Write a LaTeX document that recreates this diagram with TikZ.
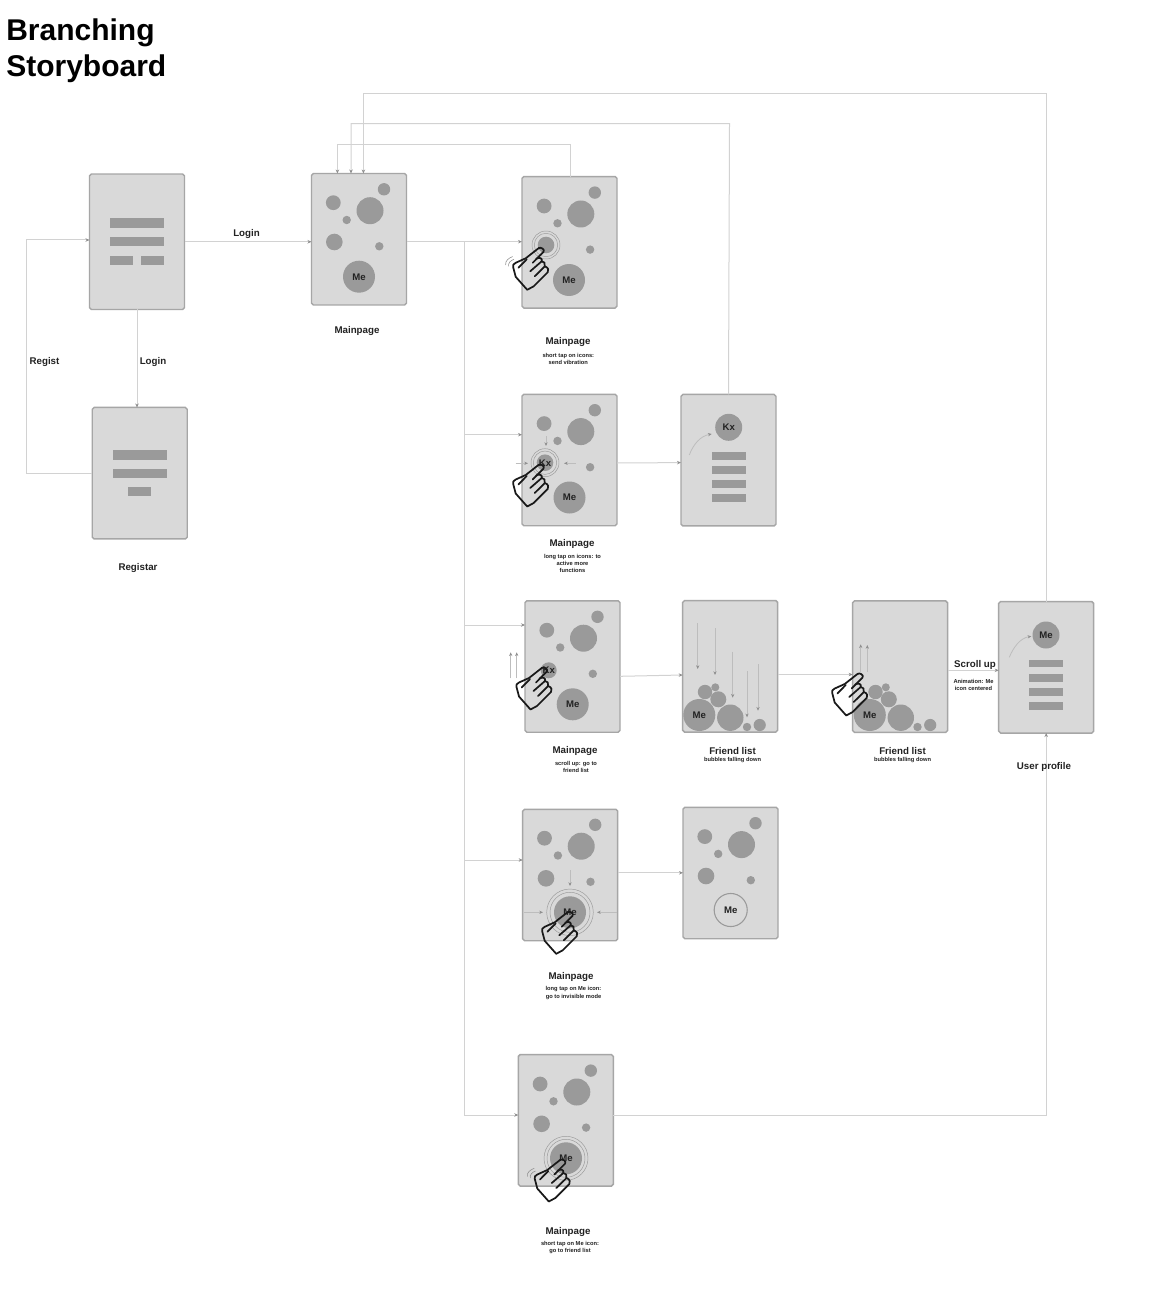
\documentclass[tikz,border=0pt]{standalone}
\usepackage{fontspec}
\setmainfont{Liberation Sans}
\usetikzlibrary{arrows.meta,calc}
\definecolor{linegray}{HTML}{D2D2D2}
\definecolor{hintgray}{HTML}{BDBDBD}
\definecolor{tipgray}{HTML}{8F8F8F}
\definecolor{screenfill}{HTML}{D9D9D9}
\definecolor{screenedge}{HTML}{A6A6A6}
\definecolor{bubblegray}{HTML}{9A9A9A}
\definecolor{inkdark}{HTML}{222222}
\tikzset{
  screenbox/.style={draw=screenedge,fill=screenfill,line width=1.1pt,rounded corners=1.4pt,
    minimum width=71.25pt,minimum height=98.6pt,inner sep=0pt,outer sep=0pt},
  link/.style={draw=linegray,line width=0.75pt},
  linka/.style={link,-{Stealth[length=3pt,width=2.6pt,color=tipgray]}},
  hint/.style={draw=hintgray,line width=0.6pt,-{Stealth[length=2.8pt,width=2.4pt,color=tipgray]}},
  bubble/.style={fill=bubblegray},
  bar/.style={fill=bubblegray},
  ring/.style={draw=bubblegray,line width=0.35pt},
  icontext/.style={text=inkdark,text height=5.2pt,text depth=0pt,font=\bfseries\fontsize{7.2}{8}\selectfont},
  iconme/.style={circle,fill=bubblegray,inner sep=0pt,outer sep=0pt,icontext},
  title/.style={anchor=north west,align=left,inner sep=0pt,font=\bfseries\fontsize{22.5}{27}\selectfont,text=black},
  head/.style={inner sep=0pt,yshift=-1.1pt,text=inkdark,font=\bfseries\fontsize{7.3}{9}\selectfont},
  sub/.style={inner sep=0pt,align=center,text=inkdark,font=\bfseries\fontsize{4.3}{5.3}\selectfont},
  handline/.style={draw=black!90,line width=1.3pt,line join=round,line cap=round},
  wave/.style={draw=black!45,line width=0.4pt},
}
% four small bubbles and the large one, relative to the screen's top left corner
\newcommand\bubblebase[2]{\begin{scope}[shift={(#1,#2)}]
  \fill[bubble] (58.5,37.2) circle[radius=13.5];
  \fill[bubble] (72.5,15.8) circle[radius=6.2];
  \fill[bubble] (21.8,29.2) circle[radius=7.4];
  \fill[bubble] (35.2,46.5) circle[radius=4.2];
  \fill[bubble] (67.8,72.8) circle[radius=4.2];
\end{scope}}
\newcommand\handicon[2]{\begin{scope}[shift={(#1,#2)}]
  \draw[handline] (-3,-1.2) -- (-16,9) -- (-26,13.5) .. controls (-28.5,14.5) and (-29,16) .. (-28.5,18)
    -- (-26,27.5) -- (-14.5,40.5) -- (-8,37) -- (6,23) .. controls (7.5,21.5) and (6.5,18) .. (3.5,17.2);
  \draw[handline] (-3,-1.2) .. controls (-1,-2.5) and (3.5,0) .. (1.8,2.6) -- (-9,13.5);
  \draw[handline] (-23.3,18.5) -- (-15,10);
  \draw[handline] (-5.5,9.5) .. controls (-2.5,7.5) and (1.2,9) .. (0,12) -- (-11.5,22);
  \draw[handline] (0,12) .. controls (2.5,11.5) and (4,14.5) .. (3,17.2) -- (-7,27);
  \end{scope}}
\newcommand\waveicon[2]{\begin{scope}[shift={(#1,#2)}]
  \draw[wave] (-36,15.7) .. controls (-37,12) and (-33,8.5) .. (-29,7.3);
  \draw[wave] (-33,17) .. controls (-34,14) and (-31,11) .. (-27.7,10);
\end{scope}}
\newcommand\fallen[2]{\begin{scope}[shift={(#1,#2)}]
  \fill[bubble] (47.6,117.2) circle[radius=13.2];
  \fill[bubble] (35.6,98.8) circle[radius=8];
  \fill[bubble] (22.3,91.5) circle[radius=7.2];
  \fill[bubble] (32.6,86.8) circle[radius=4];
  \fill[bubble] (64.3,126.5) circle[radius=4.2];
  \fill[bubble] (77,124.5) circle[radius=6.1];
\end{scope}}
\begin{document}
\begin{tikzpicture}[x=0.75pt,y=-0.75pt]
\path[use as bounding box,fill=white] (0,0) rectangle (1160,1298);

\node[title] (ttl) at (6,18) {Branching\\Storyboard};

% screens
\node[screenbox,minimum height=101.6pt] (login) at (137,241.75) {};
\node[screenbox] (regis) at (139.75,473.2) {};
\node[screenbox] (main) at (359,239.25) {};
\node[screenbox] (tap) at (569.5,242.3) {};
\node[screenbox] (longtap) at (569.5,460) {};
\node[screenbox] (friendprofile) at (728.5,460.2) {};
\node[screenbox] (scroll) at (572.5,666.5) {};
\node[screenbox] (fall) at (730.2,666.3) {};
\node[screenbox] (fallup) at (900.1,666.7) {};
\node[screenbox] (profile) at (1046.2,667.3) {};
\node[screenbox] (melong) at (570.2,875) {};
\node[screenbox] (invis) at (730.5,873) {};
\node[screenbox] (meshort) at (565.8,1120.3) {};

% connectors
\coordinate (trunk) at (464,241.7);
\draw[linka] (login.east) -- (main.west |- login.east);
\draw[linka] (login.south) -- (login.south |- regis.north);
\draw[linka] (regis.west) -- (26,473.2) -- (26,240) -- (login.west |- 0,240);
\draw[linka] (main.east |- trunk) -- (tap.west |- trunk);
\draw[link] (trunk) -- (464,1115);
\draw[linka] (464,434.7) -- (longtap.west |- 0,434.7);
\draw[linka] (464,625) -- (scroll.west |- 0,625);
\draw[linka] (464,860) -- (melong.west |- 0,860);
\draw[linka] (464,1115) -- (meshort.west |- 0,1115);
\draw[linka] (tap.north -| 570.7,0) -- (570.7,144.7) -- (337.4,144.7) -- (337.4,173.5);
\draw[linka] (friendprofile.north) -- (729.5,123.6) -- (351,123.6) -- (351,173.5);
\draw[linka] (profile.north) -- (1046.2,93.8) -- (363.4,93.8) -- (363.4,173.5);
\draw[linka] (longtap.east |- 0,463) -- (friendprofile.west |- 0,462.6);
\draw[linka] (scroll.east |- 0,676.3) -- (fall.west |- 0,675);
\draw[linka] (fall.east |- 0,674.5) -- (fallup.west |- 0,674.5);
\draw[linka] (fallup.east |- 0,670.3) -- (profile.west |- 0,670.3);
\draw[linka] (melong.east |- 0,872.8) -- (invis.west |- 0,872.8);
\draw[linka] (meshort.east |- 0,1115) -- (1046.2,1115) -- (profile.south);

% login bars
\fill[bar] (110,218.3) rectangle (164,228);
\fill[bar] (110,236.7) rectangle (164,246.3);
\fill[bar] (110,255.7) rectangle (133.3,265);
\fill[bar] (140.7,255.7) rectangle (164,265);
% register bars
\fill[bar] (112.7,450.3) rectangle (166.7,460);
\fill[bar] (112.7,468.7) rectangle (166.7,478);
\fill[bar] (128,486.7) rectangle (151.3,496);

% main page
\bubblebase{311.5}{173.5}
\fill[bubble] (334.3,242) circle[radius=8.3];
\node[iconme,minimum size=24pt] (mainme) at (359,276.7) {Me};

% short tap
\bubblebase{522.3}{176.8}
\fill[bubble] (546,245) circle[radius=8.3];
\draw[ring] (546,245) circle[radius=11.7] (546,245) circle[radius=14];
\node[iconme,minimum size=24pt] (tapme) at (569,280) {Me};

% long tap
\bubblebase{522.3}{394.4}
\fill[bubble] (545,462.7) circle[radius=8.3];
\draw[ring] (545,462.7) circle[radius=11.7] (545,462.7) circle[radius=14];
\node[iconme,minimum size=24pt] (longme) at (569.5,497.5) {Me};
\node[inner sep=0pt,icontext] (longkx) at (545,463) {Kx};
\draw[hint] (546,436) -- (546,446);
\draw[hint] (515.7,463.3) -- (528,463.3);
\draw[hint] (575.7,463.3) -- (564,463.3);

% friend profile
\node[iconme,minimum size=20.25pt] (profkx) at (728.7,427.3) {Kx};
\fill[bar] (712,452.3) rectangle (745.5,460);
\fill[bar] (712,466) rectangle (745.5,474);
\fill[bar] (712,480) rectangle (745.5,487.7);
\fill[bar] (712,494) rectangle (745.5,501.7);
\draw[hint] (689.3,455) .. controls (693,445) and (700,436) .. (711.7,434);

% scroll
\bubblebase{525}{601}
\node[iconme,minimum size=12pt] (scrollkx) at (548.7,670.3) {Kx};
\node[iconme,minimum size=24pt] (scrollme) at (572.7,704.3) {Me};
\draw[hint] (510.7,678.3) -- (510.7,652.3);
\draw[hint] (516.7,678.3) -- (516.7,652.3);

% falling
\fallen{682.7}{600.5}
\node[iconme,minimum size=24pt] (fallme) at (699.3,715) {Me};
\draw[hint] (697.7,623.3) -- (697.7,669);
\draw[hint] (715,628.3) -- (715,675);
\draw[hint] (732.7,651.7) -- (732.7,697.7);
\draw[hint] (747,671) -- (747,717.3);
\draw[hint] (758,664.3) -- (758,710.7);

% falling, scrolled
\fallen{853.2}{600.5}
\node[iconme,minimum size=24pt] (upme) at (869.8,715) {Me};
\draw[hint] (860.7,671.7) -- (860.7,644.3);
\draw[hint] (867.3,671.7) -- (867.3,645);

% user profile
\node[iconme,minimum size=20.25pt] (profme) at (1046,635) {Me};
\fill[bar] (1029.3,659.7) rectangle (1063,667);
\fill[bar] (1029.3,673.7) rectangle (1063,681.5);
\fill[bar] (1029.3,687.7) rectangle (1063,695.5);
\fill[bar] (1029.3,701.7) rectangle (1063,709.5);
\draw[hint] (1009.3,657.3) .. controls (1013,648) and (1020,638) .. (1031.3,636.3);

% long tap on Me
\bubblebase{522.7}{809}
\fill[bubble] (546,878.3) circle[radius=8.3];
\node[iconme,minimum size=24pt] (melongme) at (570,912.3) {Me};
\draw[ring] (570,912.3) circle[radius=20] (570,912.3) circle[radius=23.3];
\draw[hint] (570,870) -- (570,886);
\draw[hint] (524,912.3) -- (543,912.3);
\draw[hint] (616.7,912.3) -- (597,912.3);

% invisible
\bubblebase{683}{807.4}
\fill[bubble] (706,876) circle[radius=8.3];
\node[circle,draw=bubblegray,line width=0.8pt,fill=screenfill,minimum size=24.8pt,inner sep=0pt,icontext] (invisme) at (730.7,910) {Me};

% short tap on Me
\bubblebase{518.3}{1054.8}
\fill[bubble] (541.6,1123.8) circle[radius=8.3];
\node[iconme,minimum size=24pt] (meshortme) at (566,1158.3) {Me};
\draw[ring] (566,1158.3) circle[radius=19] (566,1158.3) circle[radius=22];

% hands
\handicon{541.7}{249.3}
\waveicon{541.7}{249.3}
\handicon{541.7}{466}
\handicon{545}{669}
\handicon{860.7}{675}
\handicon{570.7}{913.3}
\handicon{563.3}{1161}
\waveicon{563.3}{1161}

% labels
\node[head] (lbl1) at (246.5,232.5) {Login};
\node[head] (lbl2) at (357,329.5) {Mainpage};
\node[head] (lbl3) at (44.5,360.3) {Regist};
\node[head] (lbl4) at (153,360.3) {Login};
\node[head] (lbl5) at (138,566.5) {Registar};
\node[head] (lbl6) at (568,341) {Mainpage};
\node[sub] (sub6) at (568.3,358.5) {short tap on icons:\\send vibration};
\node[head] (lbl7) at (572,543) {Mainpage};
\node[sub] (sub7) at (572.5,563.3) {long tap on icons: to\\active more\\functions};
\node[head] (lbl8) at (575,750) {Mainpage};
\node[sub] (sub8) at (576,766.5) {scroll up: go to\\friend list};
\node[head] (lbl9) at (732.5,750) {Friend list};
\node[sub] (sub9) at (732.5,760.5) {bubbles falling down};
\node[head] (lbl10) at (902.5,750) {Friend list};
\node[sub] (sub10) at (902.5,760.5) {bubbles falling down};
\node[head] (lbl11) at (1044,766) {User profile};
\node[head] (lbl12) at (975,663.5) {Scroll up};
\node[sub] (sub12) at (973.5,684.5) {Animation: Me\\icon centered};
\node[head] (lbl13) at (571,976) {Mainpage};
\node[sub] (sub13) at (573.5,993) {long tap on Me icon:\\go to invisible mode};
\node[head] (lbl14) at (568,1230.5) {Mainpage};
\node[sub] (sub14) at (570,1247.5) {short tap on Me icon:\\go to friend list};
\end{tikzpicture}
\end{document}
